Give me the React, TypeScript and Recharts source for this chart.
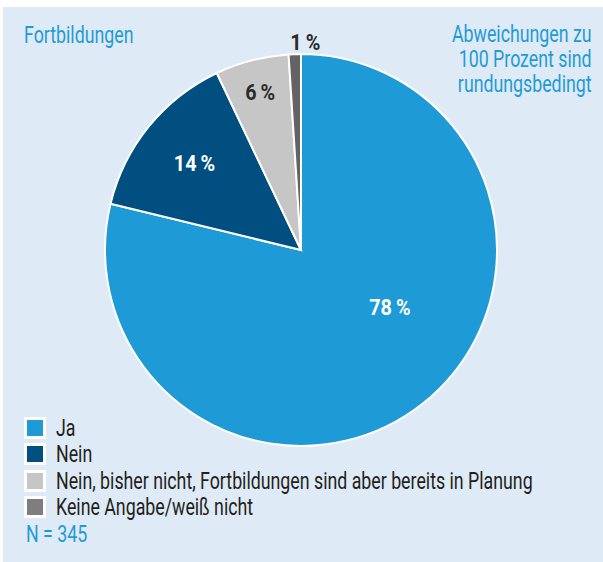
import React from 'react';
import { PieChart, Pie, Cell, Legend } from 'recharts';

// Antworten auf die Frage nach Fortbildungen (Prozent, gerundet)
const categories = [
  'Ja',
  'Nein',
  'Nein, bisher nicht, Fortbildungen sind aber bereits in Planung',
  'Keine Angabe/weiß nicht',
];
const values = [78, 14, 6, 1];
const sliceColors = ['#1e9bd7', '#004f80', '#c6c6c6', '#636365'];
const legendColors = ['#1e9bd7', '#004f80', '#c6c6c6', '#7e7e80'];
const labelColors = ['#ffffff', '#ffffff', '#2b2b2b', '#2b2b2b'];
const noteLines = ['Abweichungen zu', '100 Prozent sind', 'rundungsbedingt'];
const title = 'Fortbildungen';
const sampleSize = 'N = 345';

const data = categories.map((name, i) => ({ name, value: values[i] }));

const FONT = 'Roboto, "DejaVu Sans", sans-serif';
const BLUE = '#1e9bd7';
const RAD = Math.PI / 180;
// die Vorlage nutzt eine schmale Schrift, daher horizontal stauchen
const SQUEEZE = 0.74;
const LABEL_SQUEEZE = 0.9;

// Abstand (Anteil am Radius) und Winkelkorrektur je Beschriftung
const labelPlace = [
  { r: 0.54, da: 19 },
  { r: 0.7, da: 0 },
  { r: 0.83, da: 0 },
  { r: 1.06, da: -3 },
];

const renderLabel = (props: any) => {
  const { cx, cy, midAngle, outerRadius, index, value } = props;
  const p = labelPlace[index];
  const a = (midAngle + p.da) * RAD;
  const x = cx + outerRadius * p.r * Math.cos(-a);
  const y = cy + outerRadius * p.r * Math.sin(-a);
  return (
    <text
      transform={`translate(${x},${y}) scale(${LABEL_SQUEEZE},1)`}
      x={0}
      y={0}
      fill={labelColors[index]}
      textAnchor="middle"
      dominantBaseline="central"
      fontFamily={FONT}
      fontWeight="bold"
      fontSize={22}
    >
      {value}
      {'\u2009%'}
    </text>
  );
};

const squeezeLeft: React.CSSProperties = {
  transform: `scaleX(${SQUEEZE})`,
  transformOrigin: 'left center',
  whiteSpace: 'nowrap',
};

const LegendContent = () => (
  <div style={{ fontFamily: FONT, fontSize: 24, lineHeight: '26.5px', color: '#231f20' }}>
    {categories.map((c, i) => (
      <div key={c} style={{ display: 'flex', alignItems: 'center', height: 26.5 }}>
        <span
          style={{
            display: 'inline-block',
            flex: 'none',
            width: 16,
            height: 16,
            background: legendColors[i],
            border: '3px solid #fff',
            marginRight: 10,
          }}
        />
        <span style={squeezeLeft}>{c}</span>
      </div>
    ))}
    <div style={{ ...squeezeLeft, color: BLUE, height: 26.5, marginLeft: 2 }}>{sampleSize}</div>
  </div>
);

const App: React.FC = () => {
  return (
    <div style={{ position: 'absolute', left: 0, top: 0, width: 603, height: 562 }}>
      <div
        style={{ position: 'absolute', left: 3, top: 7, width: 600, height: 555, background: '#deeaf5' }}
      />
      <div
        style={{
          ...squeezeLeft,
          position: 'absolute',
          left: 24,
          top: 23.3,
          fontFamily: FONT,
          fontSize: 24,
          color: BLUE,
          lineHeight: '25px',
        }}
      >
        {title}
      </div>
      <div
        style={{
          position: 'absolute',
          right: 11,
          top: 22.3,
          fontFamily: FONT,
          fontSize: 24,
          color: BLUE,
          lineHeight: '25px',
          textAlign: 'right',
          whiteSpace: 'nowrap',
          transform: `scaleX(${SQUEEZE})`,
          transformOrigin: 'right center',
        }}
      >
        {noteLines.map((l) => (
          <div key={l}>{l}</div>
        ))}
      </div>
      <div style={{ position: 'absolute', left: 0, top: 0 }}>
        <PieChart width={603} height={562} margin={{ top: 0, right: 0, bottom: 0, left: 0 }}>
          <Pie
            data={data}
            dataKey="value"
            nameKey="name"
            cx={301}
            cy={250}
            outerRadius={196}
            startAngle={90}
            endAngle={-270}
            stroke="#ffffff"
            strokeWidth={2}
            labelLine={false}
            label={renderLabel}
            isAnimationActive={false}
          >
            {data.map((d, i) => (
              <Cell key={d.name} fill={sliceColors[i]} />
            ))}
          </Pie>
          <Legend
            content={<LegendContent />}
            wrapperStyle={{ position: 'absolute', left: 24, top: 414.5, width: 560, height: 140 }}
          />
        </PieChart>
      </div>
    </div>
  );
};

export default App;
